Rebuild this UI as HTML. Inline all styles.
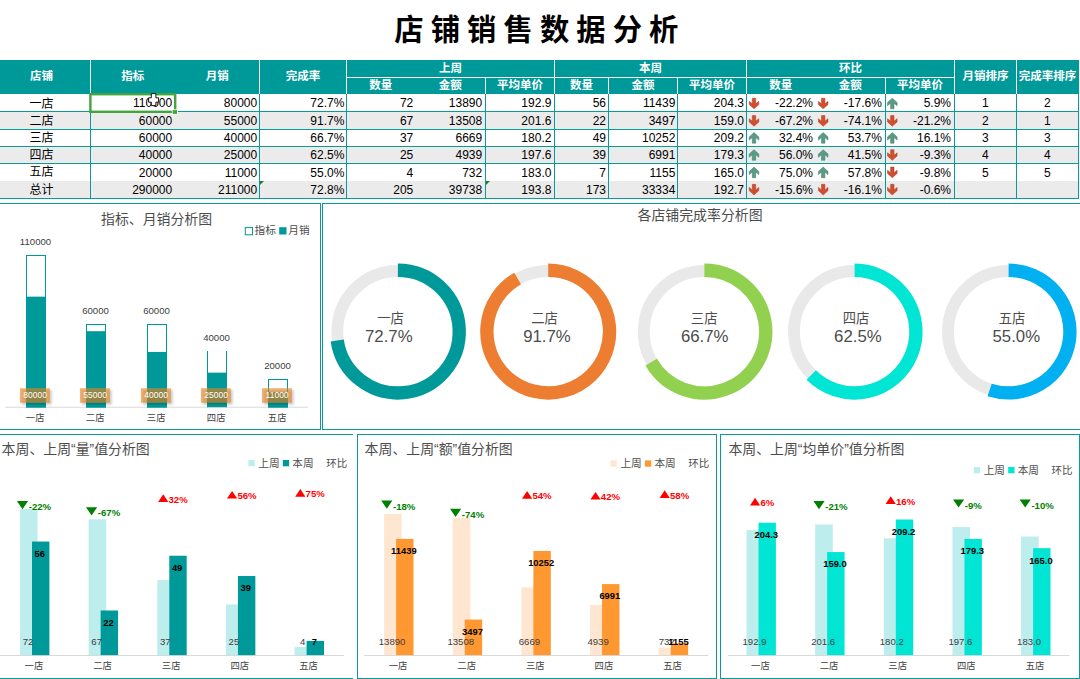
<!DOCTYPE html>
<html lang="zh-CN"><head><meta charset="utf-8"><title>店铺销售数据分析</title>
<style>
html,body{margin:0;padding:0;background:#fff}
body{width:1080px;height:679px;position:relative;overflow:hidden;font-family:"Liberation Sans","Noto Sans CJK SC",sans-serif}
.a{position:absolute;white-space:nowrap}
.t{letter-spacing:0}
.g{line-height:1;font-family:"Liberation Sans","Noto Sans CJK SC",sans-serif}
#shapes{position:absolute;left:0;top:0}
</style></head><body>
<svg width="0" height="0" style="position:absolute"><defs><filter id="sh" x="-20%" y="-20%" width="140%" height="140%"><feGaussianBlur stdDeviation="1.1"/></filter></defs></svg>
<svg id="shapes" width="1080" height="679" viewBox="0 0 1080 679">
<rect x="0" y="60" width="1079.0" height="34.0" fill="#009999"/>
<rect x="0" y="111.5" width="1078.5" height="18.0" fill="#ebebeb"/>
<rect x="0" y="146.5" width="1078.5" height="17.0" fill="#ebebeb"/>
<rect x="0" y="181.0" width="1078.5" height="17.5" fill="#ebebeb"/>
<rect x="0" y="111.0" width="1079.0" height="1.0" fill="#0b9a9a"/>
<rect x="0" y="129.0" width="1079.0" height="1.0" fill="#0b9a9a"/>
<rect x="0" y="146.0" width="1079.0" height="1.0" fill="#0b9a9a"/>
<rect x="0" y="163.0" width="1079.0" height="1.0" fill="#0b9a9a"/>
<rect x="0" y="198.0" width="1079.0" height="1.0" fill="#0b9a9a"/>
<rect x="90.0" y="94.0" width="1.0" height="104.5" fill="#0b9a9a"/>
<rect x="259.0" y="94.0" width="1.0" height="104.5" fill="#0b9a9a"/>
<rect x="346.0" y="94.0" width="1.0" height="104.5" fill="#0b9a9a"/>
<rect x="485.0" y="94.0" width="1.0" height="104.5" fill="#0b9a9a"/>
<rect x="554.0" y="94.0" width="1.0" height="104.5" fill="#0b9a9a"/>
<rect x="608.0" y="94.0" width="1.0" height="104.5" fill="#0b9a9a"/>
<rect x="677.0" y="94.0" width="1.0" height="104.5" fill="#0b9a9a"/>
<rect x="746.0" y="94.0" width="1.0" height="104.5" fill="#0b9a9a"/>
<rect x="885.0" y="94.0" width="1.0" height="104.5" fill="#0b9a9a"/>
<rect x="954.0" y="94.0" width="1.0" height="104.5" fill="#0b9a9a"/>
<rect x="1016.0" y="94.0" width="1.0" height="104.5" fill="#0b9a9a"/>
<rect x="1078.0" y="94.0" width="1.0" height="104.5" fill="#0b9a9a"/>
<rect x="90.0" y="60" width="1.0" height="34.0" fill="#fff"/>
<rect x="259.0" y="60" width="1.0" height="34.0" fill="#fff"/>
<rect x="346.0" y="60" width="1.0" height="34.0" fill="#fff"/>
<rect x="554.0" y="60" width="1.0" height="34.0" fill="#fff"/>
<rect x="746.0" y="60" width="1.0" height="34.0" fill="#fff"/>
<rect x="954.0" y="60" width="1.0" height="34.0" fill="#fff"/>
<rect x="1016.0" y="60" width="1.0" height="34.0" fill="#fff"/>
<rect x="485.0" y="77.5" width="1.0" height="16.5" fill="#fff"/>
<rect x="608.0" y="77.5" width="1.0" height="16.5" fill="#fff"/>
<rect x="677.0" y="77.5" width="1.0" height="16.5" fill="#fff"/>
<rect x="885.0" y="77.5" width="1.0" height="16.5" fill="#fff"/>
<rect x="346.5" y="77.0" width="608.0" height="1.0" fill="#fff"/>
<rect x="1078.0" y="60" width="1" height="34.0" fill="#009999"/>
<polygon points="752.3,98.2 755.7,98.2 755.7,103.8 758.8,101.3 758.8,104.5 754.0,108.8 749.2,104.5 749.2,101.3 752.3,103.8" fill="#d14f2e" stroke="#b23a1c" stroke-width="0.5" stroke-linejoin="round"/>
<polygon points="821.5,98.2 824.9,98.2 824.9,103.8 828.0,101.3 828.0,104.5 823.2,108.8 818.4,104.5 818.4,101.3 821.5,103.8" fill="#d14f2e" stroke="#b23a1c" stroke-width="0.5" stroke-linejoin="round"/>
<polygon points="890.6,108.8 894.0,108.8 894.0,103.2 897.1,105.7 897.1,102.5 892.3,98.2 887.5,102.5 887.5,105.7 890.6,103.2" fill="#5b9a84" stroke="#3f7f68" stroke-width="0.5" stroke-linejoin="round"/>
<polygon points="752.3,115.6 755.7,115.6 755.7,121.2 758.8,118.7 758.8,121.9 754.0,126.2 749.2,121.9 749.2,118.7 752.3,121.2" fill="#d14f2e" stroke="#b23a1c" stroke-width="0.5" stroke-linejoin="round"/>
<polygon points="821.5,115.6 824.9,115.6 824.9,121.2 828.0,118.7 828.0,121.9 823.2,126.2 818.4,121.9 818.4,118.7 821.5,121.2" fill="#d14f2e" stroke="#b23a1c" stroke-width="0.5" stroke-linejoin="round"/>
<polygon points="890.6,115.6 894.0,115.6 894.0,121.2 897.1,118.7 897.1,121.9 892.3,126.2 887.5,121.9 887.5,118.7 890.6,121.2" fill="#d14f2e" stroke="#b23a1c" stroke-width="0.5" stroke-linejoin="round"/>
<polygon points="752.3,143.2 755.7,143.2 755.7,137.6 758.8,140.1 758.8,136.9 754.0,132.6 749.2,136.9 749.2,140.1 752.3,137.6" fill="#5b9a84" stroke="#3f7f68" stroke-width="0.5" stroke-linejoin="round"/>
<polygon points="821.5,143.2 824.9,143.2 824.9,137.6 828.0,140.1 828.0,136.9 823.2,132.6 818.4,136.9 818.4,140.1 821.5,137.6" fill="#5b9a84" stroke="#3f7f68" stroke-width="0.5" stroke-linejoin="round"/>
<polygon points="890.6,143.2 894.0,143.2 894.0,137.6 897.1,140.1 897.1,136.9 892.3,132.6 887.5,136.9 887.5,140.1 890.6,137.6" fill="#5b9a84" stroke="#3f7f68" stroke-width="0.5" stroke-linejoin="round"/>
<polygon points="752.3,160.3 755.7,160.3 755.7,154.7 758.8,157.2 758.8,154.0 754.0,149.7 749.2,154.0 749.2,157.2 752.3,154.7" fill="#5b9a84" stroke="#3f7f68" stroke-width="0.5" stroke-linejoin="round"/>
<polygon points="821.5,160.3 824.9,160.3 824.9,154.7 828.0,157.2 828.0,154.0 823.2,149.7 818.4,154.0 818.4,157.2 821.5,154.7" fill="#5b9a84" stroke="#3f7f68" stroke-width="0.5" stroke-linejoin="round"/>
<polygon points="890.6,149.7 894.0,149.7 894.0,155.3 897.1,152.8 897.1,156.0 892.3,160.3 887.5,156.0 887.5,152.8 890.6,155.3" fill="#d14f2e" stroke="#b23a1c" stroke-width="0.5" stroke-linejoin="round"/>
<polygon points="752.3,177.7 755.7,177.7 755.7,172.1 758.8,174.6 758.8,171.4 754.0,167.1 749.2,171.4 749.2,174.6 752.3,172.1" fill="#5b9a84" stroke="#3f7f68" stroke-width="0.5" stroke-linejoin="round"/>
<polygon points="821.5,177.7 824.9,177.7 824.9,172.1 828.0,174.6 828.0,171.4 823.2,167.1 818.4,171.4 818.4,174.6 821.5,172.1" fill="#5b9a84" stroke="#3f7f68" stroke-width="0.5" stroke-linejoin="round"/>
<polygon points="890.6,167.1 894.0,167.1 894.0,172.7 897.1,170.2 897.1,173.4 892.3,177.7 887.5,173.4 887.5,170.2 890.6,172.7" fill="#d14f2e" stroke="#b23a1c" stroke-width="0.5" stroke-linejoin="round"/>
<polygon points="752.3,184.3 755.7,184.3 755.7,189.9 758.8,187.4 758.8,190.6 754.0,194.9 749.2,190.6 749.2,187.4 752.3,189.9" fill="#d14f2e" stroke="#b23a1c" stroke-width="0.5" stroke-linejoin="round"/>
<polygon points="821.5,184.3 824.9,184.3 824.9,189.9 828.0,187.4 828.0,190.6 823.2,194.9 818.4,190.6 818.4,187.4 821.5,189.9" fill="#d14f2e" stroke="#b23a1c" stroke-width="0.5" stroke-linejoin="round"/>
<polygon points="890.6,184.3 894.0,184.3 894.0,189.9 897.1,187.4 897.1,190.6 892.3,194.9 887.5,190.6 887.5,187.4 890.6,189.9" fill="#d14f2e" stroke="#b23a1c" stroke-width="0.5" stroke-linejoin="round"/>
<polygon points="260.0,181.0 264.0,181.0 260.0,185.0" fill="#1e7b34"/>
<polygon points="486.0,181.0 490.0,181.0 486.0,185.0" fill="#1e7b34"/>
<rect x="90.4" y="94.2" width="84.8" height="17.6" fill="none" stroke="#43a33c" stroke-width="2.4"/>
<rect x="172.2" y="109.7" width="5.2" height="4.6" fill="#43a33c" stroke="#fff" stroke-width="0.8"/>
<rect x="-5" y="203.5" width="325.5" height="226.0" fill="#fff" stroke="#0b9a9a" stroke-width="1"/>
<rect x="322.5" y="203.5" width="767.5" height="226.0" fill="#fff" stroke="#0b9a9a" stroke-width="1"/>
<path d="M0 434.5H353M0 678.5H353" stroke="#0b9a9a" stroke-width="1" fill="none"/>
<rect x="357.5" y="434.5" width="359.0" height="244.0" fill="#fff" stroke="#0b9a9a" stroke-width="1"/>
<rect x="720.5" y="434.5" width="359.0" height="244.0" fill="#fff" stroke="#0b9a9a" stroke-width="1"/>
<rect x="245.3" y="227.6" width="7.2" height="7.2" fill="#fff" stroke="#009999" stroke-width="1"/>
<rect x="279.2" y="227.2" width="7.3" height="7.3" fill="#009999"/>
<rect x="5.3" y="406.7" width="303" height="1" fill="#d9d9d9"/>
<rect x="26.5" y="255.5" width="19" height="151.70" fill="#fff" stroke="#009999" stroke-width="1"/>
<rect x="26" y="296.65" width="20" height="110.55" fill="#009999"/>
<rect x="21.70" y="390.0" width="30" height="14.6" fill="#000" opacity="0.2" filter="url(#sh)"/>
<rect x="19.90" y="388.2" width="30" height="14.6" fill="#e88a26" opacity="0.63"/>
<rect x="86.5" y="324.5" width="19" height="82.70" fill="#fff" stroke="#009999" stroke-width="1"/>
<rect x="86" y="331.20" width="20" height="76.00" fill="#009999"/>
<rect x="81.70" y="390.0" width="30" height="14.6" fill="#000" opacity="0.2" filter="url(#sh)"/>
<rect x="79.90" y="388.2" width="30" height="14.6" fill="#e88a26" opacity="0.63"/>
<rect x="147.5" y="324.5" width="19" height="82.70" fill="#fff" stroke="#009999" stroke-width="1"/>
<rect x="147" y="351.93" width="20" height="55.27" fill="#009999"/>
<rect x="142.70" y="390.0" width="30" height="14.6" fill="#000" opacity="0.2" filter="url(#sh)"/>
<rect x="140.90" y="388.2" width="30" height="14.6" fill="#e88a26" opacity="0.63"/>
<path d="M207.5 407.2V351.0M226.5 407.2V351.0" fill="none" stroke="#009999" stroke-width="1"/>
<rect x="207" y="372.65" width="20" height="34.55" fill="#009999"/>
<rect x="202.70" y="390.0" width="30" height="14.6" fill="#000" opacity="0.2" filter="url(#sh)"/>
<rect x="200.90" y="388.2" width="30" height="14.6" fill="#e88a26" opacity="0.63"/>
<rect x="268.5" y="379.5" width="19" height="27.70" fill="#fff" stroke="#009999" stroke-width="1"/>
<rect x="268" y="392.00" width="20" height="15.20" fill="#009999"/>
<rect x="263.70" y="390.0" width="30" height="14.6" fill="#000" opacity="0.2" filter="url(#sh)"/>
<rect x="261.90" y="388.2" width="30" height="14.6" fill="#e88a26" opacity="0.63"/>
<circle cx="397.9" cy="331.6" r="60.6" fill="none" stroke="#e9e9e9" stroke-width="11.8"/>
<path d="M397.9 270.25A61.35 61.35 0 1 1 337.19 340.44" fill="none" stroke="#009999" stroke-width="13.3"/>
<circle cx="548.2" cy="331.6" r="60.6" fill="none" stroke="#e9e9e9" stroke-width="11.8"/>
<path d="M548.2 270.25A61.35 61.35 0 1 1 517.64 278.41" fill="none" stroke="#ed7d31" stroke-width="13.3"/>
<circle cx="704.4" cy="331.6" r="60.6" fill="none" stroke="#e9e9e9" stroke-width="11.8"/>
<path d="M704.4 270.25A61.35 61.35 0 1 1 651.21 362.16" fill="none" stroke="#92d050" stroke-width="13.3"/>
<circle cx="854.6" cy="331.6" r="60.6" fill="none" stroke="#e9e9e9" stroke-width="11.8"/>
<path d="M854.6 270.25A61.35 61.35 0 1 1 811.22 374.98" fill="none" stroke="#00e5d4" stroke-width="13.3"/>
<circle cx="1008.6" cy="331.6" r="60.6" fill="none" stroke="#e9e9e9" stroke-width="11.8"/>
<path d="M1008.6 270.25A61.35 61.35 0 1 1 989.64 389.95" fill="none" stroke="#00b0f0" stroke-width="13.3"/>
<rect x="248.4" y="460.0" width="6.3" height="6.3" fill="#bdeeed"/>
<rect x="282.8" y="460.0" width="6.3" height="6.3" fill="#009999"/>
<rect x="0" y="655.0" width="344.0" height="1" fill="#d9d9d9"/>
<rect x="20.00" y="509.10" width="17.6" height="146.00" fill="#bdeeed"/>
<rect x="32.00" y="541.54" width="17.4" height="113.56" fill="#009999"/>
<polygon points="16.9,501.0 28.099999999999998,501.0 22.5,509.2" fill="#008000"/>
<rect x="88.65" y="519.24" width="17.6" height="135.86" fill="#bdeeed"/>
<rect x="100.65" y="610.49" width="17.4" height="44.61" fill="#009999"/>
<polygon points="86.0,507.2 97.2,507.2 91.6,515.4" fill="#008000"/>
<rect x="157.30" y="580.07" width="17.6" height="75.03" fill="#bdeeed"/>
<rect x="169.30" y="555.74" width="17.4" height="99.36" fill="#009999"/>
<polygon points="158.1,502.0 168.29999999999998,502.0 163.2,494.3" fill="#ff0000"/>
<rect x="225.95" y="604.41" width="17.6" height="50.69" fill="#bdeeed"/>
<rect x="237.95" y="576.02" width="17.4" height="79.08" fill="#009999"/>
<polygon points="227.0,498.6 237.2,498.6 232.1,490.90000000000003" fill="#ff0000"/>
<rect x="294.60" y="646.99" width="17.6" height="8.11" fill="#bdeeed"/>
<rect x="306.60" y="640.91" width="17.4" height="14.19" fill="#009999"/>
<polygon points="295.2,496.8 305.4,496.8 300.3,489.1" fill="#ff0000"/>
<rect x="610.5" y="460.4" width="6.3" height="6.3" fill="#ffe6d0"/>
<rect x="644.9" y="460.4" width="6.3" height="6.3" fill="#ff9830"/>
<rect x="364.2" y="655.0" width="344.09999999999997" height="1" fill="#d9d9d9"/>
<rect x="384.10" y="514.00" width="17.6" height="141.10" fill="#ffe6d0"/>
<rect x="396.10" y="538.90" width="17.4" height="116.20" fill="#ff9830"/>
<polygon points="381.2,500.6 392.4,500.6 386.8,508.8" fill="#008000"/>
<rect x="452.75" y="517.88" width="17.6" height="137.22" fill="#ffe6d0"/>
<rect x="464.75" y="619.58" width="17.4" height="35.52" fill="#ff9830"/>
<polygon points="450.0,508.79999999999995 461.2,508.79999999999995 455.6,517.0" fill="#008000"/>
<rect x="521.40" y="587.35" width="17.6" height="67.75" fill="#ffe6d0"/>
<rect x="533.40" y="550.96" width="17.4" height="104.14" fill="#ff9830"/>
<polygon points="522.0,498.8 532.2,498.8 527.1,491.1" fill="#ff0000"/>
<rect x="590.05" y="604.93" width="17.6" height="50.17" fill="#ffe6d0"/>
<rect x="602.05" y="584.08" width="17.4" height="71.02" fill="#ff9830"/>
<polygon points="590.4,499.6 600.6,499.6 595.5,491.90000000000003" fill="#ff0000"/>
<rect x="658.70" y="647.66" width="17.6" height="7.44" fill="#ffe6d0"/>
<rect x="670.70" y="643.37" width="17.4" height="11.73" fill="#ff9830"/>
<polygon points="659.6,498.0 669.8000000000001,498.0 664.7,490.3" fill="#ff0000"/>
<rect x="973.8" y="467.0" width="6.3" height="6.3" fill="#bdeeed"/>
<rect x="1008.1999999999999" y="467.0" width="6.3" height="6.3" fill="#00e5d4"/>
<rect x="728.0" y="655.0" width="341.20000000000005" height="1" fill="#d9d9d9"/>
<rect x="746.50" y="530.10" width="17.6" height="125.00" fill="#bdeeed"/>
<rect x="758.50" y="522.71" width="17.4" height="132.39" fill="#00e5d4"/>
<polygon points="750.0,505.4 760.2,505.4 755.1,497.7" fill="#ff0000"/>
<rect x="815.15" y="524.46" width="17.6" height="130.64" fill="#bdeeed"/>
<rect x="827.15" y="552.07" width="17.4" height="103.03" fill="#00e5d4"/>
<polygon points="813.4,501.0 824.6,501.0 819.0,509.2" fill="#008000"/>
<rect x="883.80" y="538.33" width="17.6" height="116.77" fill="#bdeeed"/>
<rect x="895.80" y="519.54" width="17.4" height="135.56" fill="#00e5d4"/>
<polygon points="885.6,504.0 895.8000000000001,504.0 890.7,496.3" fill="#ff0000"/>
<rect x="952.45" y="527.05" width="17.6" height="128.05" fill="#bdeeed"/>
<rect x="964.45" y="538.91" width="17.4" height="116.19" fill="#00e5d4"/>
<polygon points="953.0,499.4 964.2,499.4 958.6,507.59999999999997" fill="#008000"/>
<rect x="1021.10" y="536.52" width="17.6" height="118.58" fill="#bdeeed"/>
<rect x="1033.10" y="548.18" width="17.4" height="106.92" fill="#00e5d4"/>
<polygon points="1019.6,499.4 1030.8,499.4 1025.2,507.59999999999997" fill="#008000"/>
</svg>
<div class="a g" style="left:394.30px;top:14.65px;font-size:29.3px;letter-spacing:7.1px;font-weight:bold;color:#000;">店铺销售数据分析</div>
<div class="a g" style="left:30.10px;top:71.35px;font-size:11.5px;font-weight:bold;color:#fff;">店铺</div>
<div class="a g" style="left:121.25px;top:71.35px;font-size:11.5px;font-weight:bold;color:#fff;">指标</div>
<div class="a g" style="left:205.75px;top:71.35px;font-size:11.5px;font-weight:bold;color:#fff;">月销</div>
<div class="a g" style="left:285.75px;top:71.35px;font-size:11.5px;font-weight:bold;color:#fff;">完成率</div>
<div class="a g" style="left:439.00px;top:62.55px;font-size:11.5px;font-weight:bold;color:#fff;">上周</div>
<div class="a g" style="left:639.00px;top:62.55px;font-size:11.5px;font-weight:bold;color:#fff;">本周</div>
<div class="a g" style="left:839.00px;top:62.55px;font-size:11.5px;font-weight:bold;color:#fff;">环比</div>
<div class="a g" style="left:369.25px;top:80.05px;font-size:11.5px;font-weight:bold;color:#fff;">数量</div>
<div class="a g" style="left:438.75px;top:80.05px;font-size:11.5px;font-weight:bold;color:#fff;">金额</div>
<div class="a g" style="left:497.00px;top:80.05px;font-size:11.5px;font-weight:bold;color:#fff;">平均单价</div>
<div class="a g" style="left:570.00px;top:80.05px;font-size:11.5px;font-weight:bold;color:#fff;">数量</div>
<div class="a g" style="left:631.50px;top:80.05px;font-size:11.5px;font-weight:bold;color:#fff;">金额</div>
<div class="a g" style="left:689.00px;top:80.05px;font-size:11.5px;font-weight:bold;color:#fff;">平均单价</div>
<div class="a g" style="left:769.25px;top:80.05px;font-size:11.5px;font-weight:bold;color:#fff;">数量</div>
<div class="a g" style="left:838.75px;top:80.05px;font-size:11.5px;font-weight:bold;color:#fff;">金额</div>
<div class="a g" style="left:897.00px;top:80.05px;font-size:11.5px;font-weight:bold;color:#fff;">平均单价</div>
<div class="a g" style="left:962.50px;top:71.35px;font-size:11.5px;font-weight:bold;color:#fff;">月销排序</div>
<div class="a g" style="left:1018.75px;top:71.35px;font-size:11.5px;font-weight:bold;color:#fff;">完成率排序</div>
<div class="a g" style="left:29.60px;top:97.65px;font-size:12px;color:#000;">一店</div>
<div class="a t" style="top:96px;font-size:12px;line-height:14px;height:14px;color:#000;left:-27.80px;width:200px;text-align:right;">110000</div>
<div class="a t" style="top:96px;font-size:12px;line-height:14px;height:14px;color:#000;left:57.20px;width:200px;text-align:right;">80000</div>
<div class="a t" style="top:96px;font-size:12px;line-height:14px;height:14px;color:#000;left:144.40px;width:200px;text-align:right;">72.7%</div>
<div class="a t" style="top:96px;font-size:12px;line-height:14px;height:14px;color:#000;left:213.30px;width:200px;text-align:right;">72</div>
<div class="a t" style="top:96px;font-size:12px;line-height:14px;height:14px;color:#000;left:282.20px;width:200px;text-align:right;">13890</div>
<div class="a t" style="top:96px;font-size:12px;line-height:14px;height:14px;color:#000;left:351.40px;width:200px;text-align:right;">192.9</div>
<div class="a t" style="top:96px;font-size:12px;line-height:14px;height:14px;color:#000;left:406.00px;width:200px;text-align:right;">56</div>
<div class="a t" style="top:96px;font-size:12px;line-height:14px;height:14px;color:#000;left:475.40px;width:200px;text-align:right;">11439</div>
<div class="a t" style="top:96px;font-size:12px;line-height:14px;height:14px;color:#000;left:543.90px;width:200px;text-align:right;">204.3</div>
<div class="a t" style="top:96px;font-size:12px;line-height:14px;height:14px;color:#000;left:613.00px;width:200px;text-align:right;">-22.2%</div>
<div class="a t" style="top:96px;font-size:12px;line-height:14px;height:14px;color:#000;left:681.90px;width:200px;text-align:right;">-17.6%</div>
<div class="a t" style="top:96px;font-size:12px;line-height:14px;height:14px;color:#000;left:751.00px;width:200px;text-align:right;">5.9%</div>
<div class="a t" style="top:96px;font-size:12px;line-height:14px;height:14px;color:#000;left:885.30px;width:200px;text-align:center;">1</div>
<div class="a t" style="top:96px;font-size:12px;line-height:14px;height:14px;color:#000;left:947.40px;width:200px;text-align:center;">2</div>
<div class="a g" style="left:29.60px;top:114.95px;font-size:12px;color:#000;">二店</div>
<div class="a t" style="top:114px;font-size:12px;line-height:14px;height:14px;color:#000;left:-27.80px;width:200px;text-align:right;">60000</div>
<div class="a t" style="top:114px;font-size:12px;line-height:14px;height:14px;color:#000;left:57.20px;width:200px;text-align:right;">55000</div>
<div class="a t" style="top:114px;font-size:12px;line-height:14px;height:14px;color:#000;left:144.40px;width:200px;text-align:right;">91.7%</div>
<div class="a t" style="top:114px;font-size:12px;line-height:14px;height:14px;color:#000;left:213.30px;width:200px;text-align:right;">67</div>
<div class="a t" style="top:114px;font-size:12px;line-height:14px;height:14px;color:#000;left:282.20px;width:200px;text-align:right;">13508</div>
<div class="a t" style="top:114px;font-size:12px;line-height:14px;height:14px;color:#000;left:351.40px;width:200px;text-align:right;">201.6</div>
<div class="a t" style="top:114px;font-size:12px;line-height:14px;height:14px;color:#000;left:406.00px;width:200px;text-align:right;">22</div>
<div class="a t" style="top:114px;font-size:12px;line-height:14px;height:14px;color:#000;left:475.40px;width:200px;text-align:right;">3497</div>
<div class="a t" style="top:114px;font-size:12px;line-height:14px;height:14px;color:#000;left:543.90px;width:200px;text-align:right;">159.0</div>
<div class="a t" style="top:114px;font-size:12px;line-height:14px;height:14px;color:#000;left:613.00px;width:200px;text-align:right;">-67.2%</div>
<div class="a t" style="top:114px;font-size:12px;line-height:14px;height:14px;color:#000;left:681.90px;width:200px;text-align:right;">-74.1%</div>
<div class="a t" style="top:114px;font-size:12px;line-height:14px;height:14px;color:#000;left:751.00px;width:200px;text-align:right;">-21.2%</div>
<div class="a t" style="top:114px;font-size:12px;line-height:14px;height:14px;color:#000;left:885.30px;width:200px;text-align:center;">2</div>
<div class="a t" style="top:114px;font-size:12px;line-height:14px;height:14px;color:#000;left:947.40px;width:200px;text-align:center;">1</div>
<div class="a g" style="left:29.60px;top:132.45px;font-size:12px;color:#000;">三店</div>
<div class="a t" style="top:131px;font-size:12px;line-height:14px;height:14px;color:#000;left:-27.80px;width:200px;text-align:right;">60000</div>
<div class="a t" style="top:131px;font-size:12px;line-height:14px;height:14px;color:#000;left:57.20px;width:200px;text-align:right;">40000</div>
<div class="a t" style="top:131px;font-size:12px;line-height:14px;height:14px;color:#000;left:144.40px;width:200px;text-align:right;">66.7%</div>
<div class="a t" style="top:131px;font-size:12px;line-height:14px;height:14px;color:#000;left:213.30px;width:200px;text-align:right;">37</div>
<div class="a t" style="top:131px;font-size:12px;line-height:14px;height:14px;color:#000;left:282.20px;width:200px;text-align:right;">6669</div>
<div class="a t" style="top:131px;font-size:12px;line-height:14px;height:14px;color:#000;left:351.40px;width:200px;text-align:right;">180.2</div>
<div class="a t" style="top:131px;font-size:12px;line-height:14px;height:14px;color:#000;left:406.00px;width:200px;text-align:right;">49</div>
<div class="a t" style="top:131px;font-size:12px;line-height:14px;height:14px;color:#000;left:475.40px;width:200px;text-align:right;">10252</div>
<div class="a t" style="top:131px;font-size:12px;line-height:14px;height:14px;color:#000;left:543.90px;width:200px;text-align:right;">209.2</div>
<div class="a t" style="top:131px;font-size:12px;line-height:14px;height:14px;color:#000;left:613.00px;width:200px;text-align:right;">32.4%</div>
<div class="a t" style="top:131px;font-size:12px;line-height:14px;height:14px;color:#000;left:681.90px;width:200px;text-align:right;">53.7%</div>
<div class="a t" style="top:131px;font-size:12px;line-height:14px;height:14px;color:#000;left:751.00px;width:200px;text-align:right;">16.1%</div>
<div class="a t" style="top:131px;font-size:12px;line-height:14px;height:14px;color:#000;left:885.30px;width:200px;text-align:center;">3</div>
<div class="a t" style="top:131px;font-size:12px;line-height:14px;height:14px;color:#000;left:947.40px;width:200px;text-align:center;">3</div>
<div class="a g" style="left:29.60px;top:149.05px;font-size:12px;color:#000;">四店</div>
<div class="a t" style="top:148px;font-size:12px;line-height:14px;height:14px;color:#000;left:-27.80px;width:200px;text-align:right;">40000</div>
<div class="a t" style="top:148px;font-size:12px;line-height:14px;height:14px;color:#000;left:57.20px;width:200px;text-align:right;">25000</div>
<div class="a t" style="top:148px;font-size:12px;line-height:14px;height:14px;color:#000;left:144.40px;width:200px;text-align:right;">62.5%</div>
<div class="a t" style="top:148px;font-size:12px;line-height:14px;height:14px;color:#000;left:213.30px;width:200px;text-align:right;">25</div>
<div class="a t" style="top:148px;font-size:12px;line-height:14px;height:14px;color:#000;left:282.20px;width:200px;text-align:right;">4939</div>
<div class="a t" style="top:148px;font-size:12px;line-height:14px;height:14px;color:#000;left:351.40px;width:200px;text-align:right;">197.6</div>
<div class="a t" style="top:148px;font-size:12px;line-height:14px;height:14px;color:#000;left:406.00px;width:200px;text-align:right;">39</div>
<div class="a t" style="top:148px;font-size:12px;line-height:14px;height:14px;color:#000;left:475.40px;width:200px;text-align:right;">6991</div>
<div class="a t" style="top:148px;font-size:12px;line-height:14px;height:14px;color:#000;left:543.90px;width:200px;text-align:right;">179.3</div>
<div class="a t" style="top:148px;font-size:12px;line-height:14px;height:14px;color:#000;left:613.00px;width:200px;text-align:right;">56.0%</div>
<div class="a t" style="top:148px;font-size:12px;line-height:14px;height:14px;color:#000;left:681.90px;width:200px;text-align:right;">41.5%</div>
<div class="a t" style="top:148px;font-size:12px;line-height:14px;height:14px;color:#000;left:751.00px;width:200px;text-align:right;">-9.3%</div>
<div class="a t" style="top:148px;font-size:12px;line-height:14px;height:14px;color:#000;left:885.30px;width:200px;text-align:center;">4</div>
<div class="a t" style="top:148px;font-size:12px;line-height:14px;height:14px;color:#000;left:947.40px;width:200px;text-align:center;">4</div>
<div class="a g" style="left:29.60px;top:166.35px;font-size:12px;color:#000;">五店</div>
<div class="a t" style="top:166px;font-size:12px;line-height:14px;height:14px;color:#000;left:-27.80px;width:200px;text-align:right;">20000</div>
<div class="a t" style="top:166px;font-size:12px;line-height:14px;height:14px;color:#000;left:57.20px;width:200px;text-align:right;">11000</div>
<div class="a t" style="top:166px;font-size:12px;line-height:14px;height:14px;color:#000;left:144.40px;width:200px;text-align:right;">55.0%</div>
<div class="a t" style="top:166px;font-size:12px;line-height:14px;height:14px;color:#000;left:213.30px;width:200px;text-align:right;">4</div>
<div class="a t" style="top:166px;font-size:12px;line-height:14px;height:14px;color:#000;left:282.20px;width:200px;text-align:right;">732</div>
<div class="a t" style="top:166px;font-size:12px;line-height:14px;height:14px;color:#000;left:351.40px;width:200px;text-align:right;">183.0</div>
<div class="a t" style="top:166px;font-size:12px;line-height:14px;height:14px;color:#000;left:406.00px;width:200px;text-align:right;">7</div>
<div class="a t" style="top:166px;font-size:12px;line-height:14px;height:14px;color:#000;left:475.40px;width:200px;text-align:right;">1155</div>
<div class="a t" style="top:166px;font-size:12px;line-height:14px;height:14px;color:#000;left:543.90px;width:200px;text-align:right;">165.0</div>
<div class="a t" style="top:166px;font-size:12px;line-height:14px;height:14px;color:#000;left:613.00px;width:200px;text-align:right;">75.0%</div>
<div class="a t" style="top:166px;font-size:12px;line-height:14px;height:14px;color:#000;left:681.90px;width:200px;text-align:right;">57.8%</div>
<div class="a t" style="top:166px;font-size:12px;line-height:14px;height:14px;color:#000;left:751.00px;width:200px;text-align:right;">-9.8%</div>
<div class="a t" style="top:166px;font-size:12px;line-height:14px;height:14px;color:#000;left:885.30px;width:200px;text-align:center;">5</div>
<div class="a t" style="top:166px;font-size:12px;line-height:14px;height:14px;color:#000;left:947.40px;width:200px;text-align:center;">5</div>
<div class="a g" style="left:29.60px;top:183.55px;font-size:12px;color:#000;">总计</div>
<div class="a t" style="top:183px;font-size:12px;line-height:14px;height:14px;color:#000;left:-27.80px;width:200px;text-align:right;">290000</div>
<div class="a t" style="top:183px;font-size:12px;line-height:14px;height:14px;color:#000;left:57.20px;width:200px;text-align:right;">211000</div>
<div class="a t" style="top:183px;font-size:12px;line-height:14px;height:14px;color:#000;left:144.40px;width:200px;text-align:right;">72.8%</div>
<div class="a t" style="top:183px;font-size:12px;line-height:14px;height:14px;color:#000;left:213.30px;width:200px;text-align:right;">205</div>
<div class="a t" style="top:183px;font-size:12px;line-height:14px;height:14px;color:#000;left:282.20px;width:200px;text-align:right;">39738</div>
<div class="a t" style="top:183px;font-size:12px;line-height:14px;height:14px;color:#000;left:351.40px;width:200px;text-align:right;">193.8</div>
<div class="a t" style="top:183px;font-size:12px;line-height:14px;height:14px;color:#000;left:406.00px;width:200px;text-align:right;">173</div>
<div class="a t" style="top:183px;font-size:12px;line-height:14px;height:14px;color:#000;left:475.40px;width:200px;text-align:right;">33334</div>
<div class="a t" style="top:183px;font-size:12px;line-height:14px;height:14px;color:#000;left:543.90px;width:200px;text-align:right;">192.7</div>
<div class="a t" style="top:183px;font-size:12px;line-height:14px;height:14px;color:#000;left:613.00px;width:200px;text-align:right;">-15.6%</div>
<div class="a t" style="top:183px;font-size:12px;line-height:14px;height:14px;color:#000;left:681.90px;width:200px;text-align:right;">-16.1%</div>
<div class="a t" style="top:183px;font-size:12px;line-height:14px;height:14px;color:#000;left:751.00px;width:200px;text-align:right;">-0.6%</div>
<div class="a g" style="left:101.00px;top:212.65px;font-size:13.9px;color:#4c4c4c;">指标、月销分析图</div>
<div class="a g" style="left:254.60px;top:225.26px;font-size:10.67px;color:#4c4c4c;">指标</div>
<div class="a g" style="left:288.30px;top:225.26px;font-size:10.67px;color:#4c4c4c;">月销</div>
<div class="a t" style="top:235.94px;font-size:9.6px;line-height:11.52px;color:#404040;left:-64.50px;width:200px;text-align:center;">110000</div>
<div class="a t" style="top:390.20px;font-size:8.5px;line-height:10.2px;color:#fff;left:-64.90px;width:200px;text-align:center;">80000</div>
<div class="a g" style="left:25.87px;top:414.03px;font-size:9.33px;color:#404040;">一店</div>
<div class="a t" style="top:305.14px;font-size:9.6px;line-height:11.52px;color:#404040;left:-4.50px;width:200px;text-align:center;">60000</div>
<div class="a t" style="top:390.20px;font-size:8.5px;line-height:10.2px;color:#fff;left:-4.90px;width:200px;text-align:center;">55000</div>
<div class="a g" style="left:85.87px;top:414.03px;font-size:9.33px;color:#404040;">二店</div>
<div class="a t" style="top:305.14px;font-size:9.6px;line-height:11.52px;color:#404040;left:56.50px;width:200px;text-align:center;">60000</div>
<div class="a t" style="top:390.20px;font-size:8.5px;line-height:10.2px;color:#fff;left:56.10px;width:200px;text-align:center;">40000</div>
<div class="a g" style="left:146.87px;top:414.03px;font-size:9.33px;color:#404040;">三店</div>
<div class="a t" style="top:332.04px;font-size:9.6px;line-height:11.52px;color:#404040;left:116.50px;width:200px;text-align:center;">40000</div>
<div class="a t" style="top:390.20px;font-size:8.5px;line-height:10.2px;color:#fff;left:116.10px;width:200px;text-align:center;">25000</div>
<div class="a g" style="left:206.87px;top:414.03px;font-size:9.33px;color:#404040;">四店</div>
<div class="a t" style="top:360.24px;font-size:9.6px;line-height:11.52px;color:#404040;left:177.50px;width:200px;text-align:center;">20000</div>
<div class="a t" style="top:390.20px;font-size:8.5px;line-height:10.2px;color:#fff;left:177.10px;width:200px;text-align:center;">11000</div>
<div class="a g" style="left:267.87px;top:414.03px;font-size:9.33px;color:#404040;">五店</div>
<div class="a g" style="left:637.55px;top:208.85px;font-size:13.9px;color:#4c4c4c;">各店铺完成率分析图</div>
<div class="a g" style="left:377.17px;top:311.94px;font-size:13.33px;color:#4c4c4c;">一店</div>
<div class="a t" style="top:327.32px;font-size:16.8px;line-height:20.16px;color:#4c4c4c;left:288.80px;width:200px;text-align:center;">72.7%</div>
<div class="a g" style="left:531.27px;top:311.94px;font-size:13.33px;color:#4c4c4c;">二店</div>
<div class="a t" style="top:327.32px;font-size:16.8px;line-height:20.16px;color:#4c4c4c;left:447.00px;width:200px;text-align:center;">91.7%</div>
<div class="a g" style="left:690.87px;top:311.94px;font-size:13.33px;color:#4c4c4c;">三店</div>
<div class="a t" style="top:327.32px;font-size:16.8px;line-height:20.16px;color:#4c4c4c;left:604.70px;width:200px;text-align:center;">66.7%</div>
<div class="a g" style="left:842.67px;top:311.94px;font-size:13.33px;color:#4c4c4c;">四店</div>
<div class="a t" style="top:327.32px;font-size:16.8px;line-height:20.16px;color:#4c4c4c;left:757.90px;width:200px;text-align:center;">62.5%</div>
<div class="a g" style="left:998.67px;top:311.94px;font-size:13.33px;color:#4c4c4c;">五店</div>
<div class="a t" style="top:327.32px;font-size:16.8px;line-height:20.16px;color:#4c4c4c;left:916.30px;width:200px;text-align:center;">55.0%</div>
<div class="a g" style="left:1.60px;top:443.05px;font-size:13.9px;color:#4c4c4c;">本周、上周“量”值分析图</div>
<div class="a g" style="left:258.30px;top:457.97px;font-size:10.67px;color:#4c4c4c;">上周</div>
<div class="a g" style="left:292.30px;top:457.97px;font-size:10.67px;color:#4c4c4c;">本周</div>
<div class="a g" style="left:326.20px;top:458.05px;font-size:10.5px;color:#4c4c4c;">环比</div>
<div class="a t" style="top:635.54px;font-size:9.6px;line-height:11.52px;color:#404040;left:-72.00px;width:200px;text-align:center;">72</div>
<div class="a t" style="top:547.90px;font-size:9.4px;line-height:11.28px;color:#000;font-weight:bold;left:-60.20px;width:200px;text-align:center;">56</div>
<div class="a g" style="left:24.57px;top:662.04px;font-size:9.33px;color:#404040;">一店</div>
<div class="a t" style="top:501.14px;font-size:9.6px;line-height:11.52px;color:#008000;font-weight:bold;left:28.70px;">-22%</div>
<div class="a t" style="top:635.54px;font-size:9.6px;line-height:11.52px;color:#404040;left:-3.35px;width:200px;text-align:center;">67</div>
<div class="a t" style="top:616.85px;font-size:9.4px;line-height:11.28px;color:#000;font-weight:bold;left:8.45px;width:200px;text-align:center;">22</div>
<div class="a g" style="left:93.22px;top:662.04px;font-size:9.33px;color:#404040;">二店</div>
<div class="a t" style="top:507.34px;font-size:9.6px;line-height:11.52px;color:#008000;font-weight:bold;left:97.80px;">-67%</div>
<div class="a t" style="top:635.54px;font-size:9.6px;line-height:11.52px;color:#404040;left:65.30px;width:200px;text-align:center;">37</div>
<div class="a t" style="top:562.10px;font-size:9.4px;line-height:11.28px;color:#000;font-weight:bold;left:77.10px;width:200px;text-align:center;">49</div>
<div class="a g" style="left:161.87px;top:662.04px;font-size:9.33px;color:#404040;">三店</div>
<div class="a t" style="top:493.54px;font-size:9.6px;line-height:11.52px;color:#ff0000;font-weight:bold;left:168.50px;">32%</div>
<div class="a t" style="top:635.54px;font-size:9.6px;line-height:11.52px;color:#404040;left:133.95px;width:200px;text-align:center;">25</div>
<div class="a t" style="top:582.38px;font-size:9.4px;line-height:11.28px;color:#000;font-weight:bold;left:145.75px;width:200px;text-align:center;">39</div>
<div class="a g" style="left:230.52px;top:662.04px;font-size:9.33px;color:#404040;">四店</div>
<div class="a t" style="top:490.14px;font-size:9.6px;line-height:11.52px;color:#ff0000;font-weight:bold;left:237.40px;">56%</div>
<div class="a t" style="top:635.54px;font-size:9.6px;line-height:11.52px;color:#404040;left:202.60px;width:200px;text-align:center;">4</div>
<div class="a t" style="top:635.76px;font-size:9.4px;line-height:11.28px;color:#000;font-weight:bold;left:214.40px;width:200px;text-align:center;">7</div>
<div class="a g" style="left:299.17px;top:662.04px;font-size:9.33px;color:#404040;">五店</div>
<div class="a t" style="top:488.34px;font-size:9.6px;line-height:11.52px;color:#ff0000;font-weight:bold;left:305.60px;">75%</div>
<div class="a g" style="left:364.60px;top:443.05px;font-size:13.9px;color:#4c4c4c;">本周、上周“额”值分析图</div>
<div class="a g" style="left:620.40px;top:458.37px;font-size:10.67px;color:#4c4c4c;">上周</div>
<div class="a g" style="left:654.40px;top:458.37px;font-size:10.67px;color:#4c4c4c;">本周</div>
<div class="a g" style="left:688.30px;top:458.45px;font-size:10.5px;color:#4c4c4c;">环比</div>
<div class="a t" style="top:635.54px;font-size:9.6px;line-height:11.52px;color:#404040;left:292.10px;width:200px;text-align:center;">13890</div>
<div class="a t" style="top:545.26px;font-size:9.4px;line-height:11.28px;color:#000;font-weight:bold;left:303.90px;width:200px;text-align:center;">11439</div>
<div class="a g" style="left:388.67px;top:662.04px;font-size:9.33px;color:#404040;">一店</div>
<div class="a t" style="top:500.74px;font-size:9.6px;line-height:11.52px;color:#008000;font-weight:bold;left:393.00px;">-18%</div>
<div class="a t" style="top:635.54px;font-size:9.6px;line-height:11.52px;color:#404040;left:360.75px;width:200px;text-align:center;">13508</div>
<div class="a t" style="top:625.94px;font-size:9.4px;line-height:11.28px;color:#000;font-weight:bold;left:372.55px;width:200px;text-align:center;">3497</div>
<div class="a g" style="left:457.32px;top:662.04px;font-size:9.33px;color:#404040;">二店</div>
<div class="a t" style="top:508.94px;font-size:9.6px;line-height:11.52px;color:#008000;font-weight:bold;left:461.80px;">-74%</div>
<div class="a t" style="top:635.54px;font-size:9.6px;line-height:11.52px;color:#404040;left:429.40px;width:200px;text-align:center;">6669</div>
<div class="a t" style="top:557.32px;font-size:9.4px;line-height:11.28px;color:#000;font-weight:bold;left:441.20px;width:200px;text-align:center;">10252</div>
<div class="a g" style="left:525.97px;top:662.04px;font-size:9.33px;color:#404040;">三店</div>
<div class="a t" style="top:490.34px;font-size:9.6px;line-height:11.52px;color:#ff0000;font-weight:bold;left:532.40px;">54%</div>
<div class="a t" style="top:635.54px;font-size:9.6px;line-height:11.52px;color:#404040;left:498.05px;width:200px;text-align:center;">4939</div>
<div class="a t" style="top:590.44px;font-size:9.4px;line-height:11.28px;color:#000;font-weight:bold;left:509.85px;width:200px;text-align:center;">6991</div>
<div class="a g" style="left:594.62px;top:662.04px;font-size:9.33px;color:#404040;">四店</div>
<div class="a t" style="top:491.14px;font-size:9.6px;line-height:11.52px;color:#ff0000;font-weight:bold;left:600.80px;">42%</div>
<div class="a t" style="top:635.54px;font-size:9.6px;line-height:11.52px;color:#404040;left:566.70px;width:200px;text-align:center;">732</div>
<div class="a t" style="top:635.76px;font-size:9.4px;line-height:11.28px;color:#000;font-weight:bold;left:578.50px;width:200px;text-align:center;">1155</div>
<div class="a g" style="left:663.27px;top:662.04px;font-size:9.33px;color:#404040;">五店</div>
<div class="a t" style="top:489.54px;font-size:9.6px;line-height:11.52px;color:#ff0000;font-weight:bold;left:670.00px;">58%</div>
<div class="a g" style="left:728.40px;top:443.05px;font-size:13.9px;color:#4c4c4c;">本周、上周“均单价”值分析图</div>
<div class="a g" style="left:983.70px;top:464.97px;font-size:10.67px;color:#4c4c4c;">上周</div>
<div class="a g" style="left:1017.70px;top:464.97px;font-size:10.67px;color:#4c4c4c;">本周</div>
<div class="a g" style="left:1051.60px;top:465.05px;font-size:10.5px;color:#4c4c4c;">环比</div>
<div class="a t" style="top:635.54px;font-size:9.6px;line-height:11.52px;color:#404040;left:654.50px;width:200px;text-align:center;">192.9</div>
<div class="a t" style="top:529.07px;font-size:9.4px;line-height:11.28px;color:#000;font-weight:bold;left:666.30px;width:200px;text-align:center;">204.3</div>
<div class="a g" style="left:751.07px;top:662.04px;font-size:9.33px;color:#404040;">一店</div>
<div class="a t" style="top:496.94px;font-size:9.6px;line-height:11.52px;color:#ff0000;font-weight:bold;left:760.40px;">6%</div>
<div class="a t" style="top:635.54px;font-size:9.6px;line-height:11.52px;color:#404040;left:723.15px;width:200px;text-align:center;">201.6</div>
<div class="a t" style="top:558.43px;font-size:9.4px;line-height:11.28px;color:#000;font-weight:bold;left:734.95px;width:200px;text-align:center;">159.0</div>
<div class="a g" style="left:819.72px;top:662.04px;font-size:9.33px;color:#404040;">二店</div>
<div class="a t" style="top:501.14px;font-size:9.6px;line-height:11.52px;color:#008000;font-weight:bold;left:825.20px;">-21%</div>
<div class="a t" style="top:635.54px;font-size:9.6px;line-height:11.52px;color:#404040;left:791.80px;width:200px;text-align:center;">180.2</div>
<div class="a t" style="top:525.90px;font-size:9.4px;line-height:11.28px;color:#000;font-weight:bold;left:803.60px;width:200px;text-align:center;">209.2</div>
<div class="a g" style="left:888.37px;top:662.04px;font-size:9.33px;color:#404040;">三店</div>
<div class="a t" style="top:495.54px;font-size:9.6px;line-height:11.52px;color:#ff0000;font-weight:bold;left:896.00px;">16%</div>
<div class="a t" style="top:635.54px;font-size:9.6px;line-height:11.52px;color:#404040;left:860.45px;width:200px;text-align:center;">197.6</div>
<div class="a t" style="top:545.27px;font-size:9.4px;line-height:11.28px;color:#000;font-weight:bold;left:872.25px;width:200px;text-align:center;">179.3</div>
<div class="a g" style="left:957.02px;top:662.04px;font-size:9.33px;color:#404040;">四店</div>
<div class="a t" style="top:499.54px;font-size:9.6px;line-height:11.52px;color:#008000;font-weight:bold;left:964.80px;">-9%</div>
<div class="a t" style="top:635.54px;font-size:9.6px;line-height:11.52px;color:#404040;left:929.10px;width:200px;text-align:center;">183.0</div>
<div class="a t" style="top:554.54px;font-size:9.4px;line-height:11.28px;color:#000;font-weight:bold;left:940.90px;width:200px;text-align:center;">165.0</div>
<div class="a g" style="left:1025.67px;top:662.04px;font-size:9.33px;color:#404040;">五店</div>
<div class="a t" style="top:499.54px;font-size:9.6px;line-height:11.52px;color:#008000;font-weight:bold;left:1031.40px;">-10%</div>
<svg class="a" style="left:0;top:0" width="200" height="130"><path d="M151.3 93.6h4.6v4.2h2.7v4.4h-2.7v3.4h-4.6v-3.4h-2.7v-4.4h2.7z" fill="#fff" stroke="#111" stroke-width="1" stroke-linejoin="miter"/></svg>
</body></html>
